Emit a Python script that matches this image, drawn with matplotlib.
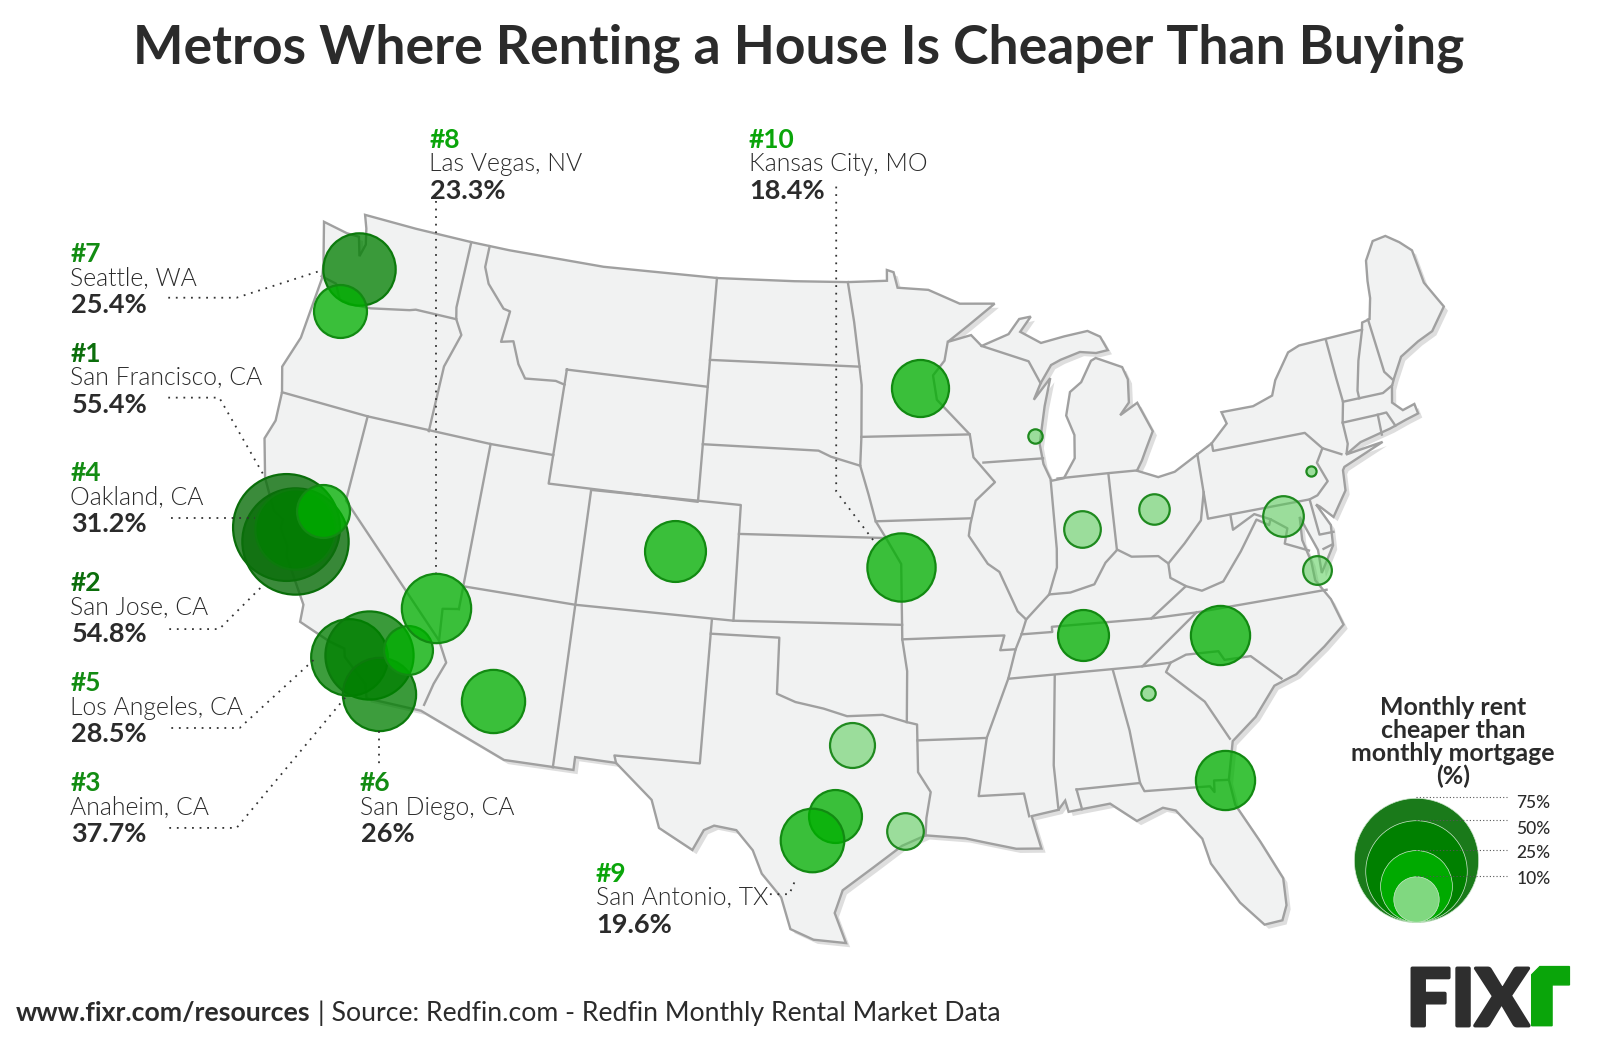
# rent vs buy bubble map
import numpy as np
import matplotlib
matplotlib.use('Agg')
import matplotlib.pyplot as plt
import matplotlib.patheffects as pe

plt.rcParams['font.family'] = ['Lato', 'DejaVu Sans']

## DATA
metro_names = ['Seattle', 'Portland', 'San Francisco', 'San Jose', 'Oakland', 'Sacramento',
               'Los Angeles', 'Anaheim', 'San Diego', 'Riverside', 'Las Vegas', 'Phoenix',
               'Denver', 'Kansas City', 'Minneapolis', 'Milwaukee', 'Indianapolis', 'Columbus',
               'Philadelphia', 'Washington', 'Virginia Beach', 'Nashville', 'Charlotte',
               'Atlanta', 'Jacksonville', 'Dallas', 'Austin', 'San Antonio', 'Houston']
# where the bubbles sit on the map, read back from the picture
metro_lon = [-122.29, -122.65, -122.3, -121.74, -121.88, -120.87,
             -118.23, -117.42, -116.63, -115.86, -115.02, -111.93,
             -104.89, -94.65, -93.57, -88.08, -86.3, -82.88,
             -75.47, -77.13, -76.14, -86.72, -80.83,
             -84.21, -81.56, -96.8, -97.43, -98.36, -94.64]
metro_lat = [46.86, 45.27, 37.57, 37.18, 37.59, 38.46,
             33.79, 34.02, 32.76, 34.48, 36.1, 33.27,
             39.25, 39.0, 45.16, 43.28, 39.94, 40.33,
             40.67, 39.35, 37.29, 36.29, 35.69,
             34.05, 30.71, 32.84, 30.4, 29.52, 29.87]
metro_values = [25.4, 13.6, 55.4, 54.8, 31.2, 13.6,
                28.5, 37.7, 26.0, 11.6, 23.3, 19.4,
                18.0, 22.6, 15.8, 1.0, 6.5, 4.5,
                0.5, 8.0, 4.0, 12.6, 17.0,
                1.0, 17.0, 9.8, 13.6, 19.6, 6.5]

label_ranks = ['#7', '#1', '#4', '#2', '#5', '#3', '#6', '#8', '#10', '#9']
label_cities = ['Seattle, WA', 'San Francisco, CA', 'Oakland, CA', 'San Jose, CA', 'Los Angeles, CA',
                'Anaheim, CA', 'San Diego, CA', 'Las Vegas, NV', 'Kansas City, MO', 'San Antonio, TX']
label_pcts = ['25.4%', '55.4%', '31.2%', '54.8%', '28.5%', '37.7%', '26%', '23.3%', '18.4%', '19.6%']

legend_values = [75, 50, 25, 10]
legend_labels = ['75%', '50%', '25%', '10%']

outline = [(-124.7,48.1),(-123.4,47.95),(-122.75,47.95),(-122.45,47.3),(-122.3,47.75),(-122.5,48.3),(-122.76,48.75),
 (-120,48.75),(-117,48.75),(-115,48.75),(-110,48.75),(-104,48.82),(-100,48.88),(-97.2,48.9),(-95.15,48.95),(-95.15,49.33),(-94.8,49.25),
 (-94.6,48.7),(-93.0,48.6),(-91.4,48.07),(-89.6,48.0),(-91.0,47.3),(-92.1,46.75),(-90.9,46.95),(-90.4,46.55),
 (-89,46.9),(-88.4,47.4),(-87.8,47.45),(-88.4,46.95),(-87.4,46.5),(-86.2,46.65),(-85,46.75),(-84.4,46.5),(-84.1,46.0),
 (-84.7,45.95),(-85.5,46.05),(-86.5,45.85),(-87.0,45.7),(-87.6,45.1),(-88.0,44.55),(-87.1,45.25),(-87.5,44.3),
 (-87.9,43.0),(-87.8,42.3),(-87.5,41.7),(-86.9,41.75),(-86.3,42.4),(-86.2,43.2),(-86.5,43.9),(-86.2,44.7),(-85.6,45.0),
 (-85.0,45.7),(-84.75,45.78),(-83.5,45.35),(-83.3,44.9),(-83.4,44.1),(-83.9,43.7),(-83.0,44.05),(-82.45,43.0),
 (-82.9,42.4),(-83.15,42.05),(-83.45,41.72),(-82.5,41.4),(-81.7,41.5),(-80.5,41.98),(-79.76,42.27),(-78.9,42.85),
 (-79.05,43.27),(-77.5,43.27),(-76.5,43.5),(-76.2,44.0),(-75.3,44.85),(-74.7,45.0),(-71.5,45.01),(-71.4,45.25),
 (-71.0,45.3),(-70.7,46.0),(-70.6,46.6),(-70.4,47.3),(-69.8,47.9),(-69.1,47.95),(-68.5,47.6),(-68.0,47.2),
 (-67.9,46.0),(-67.6,45.5),(-67.3,45.0),(-68.2,44.3),(-69.0,44.1),(-70.0,43.75),(-70.6,43.1),(-70.8,42.85),
 (-71.0,42.3),(-70.6,41.95),(-70.0,42.05),(-69.95,41.7),(-70.6,41.6),(-71.4,41.45),(-72.9,41.25),(-73.7,40.95),
 (-71.9,41.07),(-73.9,40.55),(-74.0,40.45),(-74.1,39.75),(-74.9,38.95),(-75.4,39.4),(-75.55,39.5),(-75.1,38.7),
 (-75.2,38.0),(-75.95,37.15),(-75.9,37.95),(-76.2,38.7),(-76.4,39.2),(-76.5,38.4),(-76.3,37.6),(-76.3,36.95),
 (-75.8,36.2),(-75.5,35.25),(-76.5,34.65),(-77.9,33.9),(-78.9,33.65),(-79.9,32.7),(-81.0,32.0),(-81.4,30.7),
 (-81.3,29.8),(-80.55,28.4),(-79.9,27.0),(-79.95,26.05),(-80.2,25.55),(-80.9,25.5),(-81.7,26.4),(-82.6,27.9),
 (-82.8,28.8),(-83.7,29.9),(-84.2,30.05),(-85.3,29.7),(-86.3,30.4),(-87.5,30.3),(-88.0,30.25),(-88.1,30.65),
 (-88.4,30.35),(-89.5,30.2),(-89.4,29.8),(-89.2,29.05),(-90.2,29.1),(-91.3,29.35),(-92.2,29.55),(-93.8,29.7),
 (-94.75,29.35),(-95.9,28.6),(-97.1,27.8),(-97.4,27.0),(-96.95,25.95),(-98.2,26.05),(-99.1,26.4),(-99.5,27.5),
 (-100.3,28.3),(-100.7,29.1),(-101.4,29.77),(-102.3,29.88),(-102.7,29.7),(-103.1,28.98),(-104.5,29.65),(-104.9,30.6),
 (-106.5,31.75),(-108.2,31.78),(-108.2,31.33),(-111.07,31.33),(-114.8,32.5),(-117.12,32.53),(-117.3,33.0),
 (-118.4,33.75),(-118.5,34.03),(-119.2,34.15),(-120.6,34.55),(-120.65,35.15),(-121.9,36.6),(-122.0,36.95),
 (-122.5,37.5),(-122.5,37.8),(-123.0,38.0),(-123.8,39.0),(-124.35,40.3),(-124.1,41.0),(-124.2,42.0),(-124.55,42.85),
 (-124.1,44.0),(-123.95,46.2),(-124.1,46.7)]

# state borders
borders = [
 [(-124.0,46.25),(-123.2,46.15),(-122.8,45.65),(-122.2,45.6),(-121.2,45.65),(-119.3,45.93),(-119,46),(-116.92,46.0)],
 [(-117.03,48.75),(-117.04,46.4),(-116.92,46.0),(-116.5,45.5),(-117.0,44.3),(-117.03,42)],
 [(-124.2,42),(-120,42),(-114.05,42),(-111.05,42)],
 [(-120,42),(-120,39),(-114.63,35.0),(-114.15,34.3),(-114.5,33.5),(-114.72,32.72)],
 [(-114.63,35),(-114.75,36.1),(-114.05,36.2)],
 [(-114.05,42),(-114.05,36.2)],
 [(-114.05,37),(-109.05,37),(-102.04,37),(-94.62,37)],
 [(-116.05,48.75),(-116.05,48),(-115.7,47.45),(-114.7,46.7),(-114.35,46.65),(-114.5,45.55),(-113.9,45.65),(-113.45,44.9),(-113,44.45),(-111.5,44.55),(-111.05,44.47)],
 [(-111.05,45),(-104.05,45),(-104.05,41),(-111.05,41),(-111.05,45)],
 [(-109.05,41),(-109.05,31.33)],
 [(-109.05,41),(-102.05,41),(-102.05,37)],
 [(-104.05,43),(-98.5,43),(-97.9,42.8),(-96.5,42.5)],
 [(-104.05,48.82),(-104.05,45)],
 [(-104.05,45.94),(-96.56,45.94)],
 [(-97.2,48.9),(-96.85,47.5),(-96.56,45.94),(-96.45,45.3),(-96.45,43.5),(-96.5,42.5),(-96.1,41.5),(-95.77,40.58),(-95.3,40),(-94.62,39.1),(-94.62,36.5),(-94.43,35.4),(-94.48,33.64)],
 [(-96.45,43.5),(-91.22,43.5)],
 [(-92.1,46.75),(-92.3,46.1),(-92.9,45.6),(-92.75,44.75),(-91.22,43.5),(-91.1,42.7),(-90.15,41.8),(-91.1,41.2),(-91.4,40.4),(-91.5,40),(-90.7,39),(-90.2,38.7),(-89.5,37.3),(-89.15,37),(-89.4,36.5),(-89.7,36),(-90.1,35),(-91.15,33),(-91.6,31),(-89.75,31),(-89.6,30.2)],
 [(-95.77,40.58),(-91.4,40.6)],
 [(-102.05,40),(-95.3,40)],
 [(-103,37),(-103.06,32),(-106.6,32),(-106.5,31.75)],
 [(-103,36.5),(-100,36.5),(-100,34.56),(-99.2,34.3),(-98,34.1),(-97,33.85),(-95.5,33.9),(-94.48,33.64),(-94.05,33.55),(-94.05,31.9),(-93.55,31.2),(-93.75,30.3),(-93.8,29.7)],
 [(-94.62,36.5),(-90.15,36.5),(-90.37,36),(-89.7,36)],
 [(-94.05,33),(-91.15,33)],
 [(-88.1,35.0),(-88.45,31.9),(-88.4,30.35)],
 [(-90.1,35),(-84.32,35),(-83.1,35.75),(-81.68,36.59)],
 [(-89.4,36.5),(-88.05,36.5),(-88.05,36.68),(-83.68,36.6),(-81.68,36.59),(-75.9,36.55)],
 [(-85.6,35),(-85.18,32.85),(-85,31),(-84.86,30.7),(-82.2,30.57),(-82.05,30.35),(-82,30.75),(-81.45,30.7)],
 [(-87.6,31),(-85,31)],
 [(-87.6,31),(-87.45,30.3)],
 [(-83.1,35),(-83.35,34.7),(-81.9,33.5),(-81.1,32.1)],
 [(-84.32,35),(-83.1,35),(-82.4,35.2),(-81,35.15),(-80.8,34.82),(-79.67,34.8),(-78.55,33.85)],
 [(-87.53,41.7),(-87.53,39.35),(-87.6,38.7),(-88.05,37.8)],
 [(-89.15,37),(-88.05,37.8),(-87.1,37.8),(-86,38),(-85.4,38.7),(-84.8,39.1),(-84.2,38.8),(-83.0,38.7),(-82.6,38.4),(-81.75,39.0),(-80.85,39.7),(-80.52,40.64)],
 [(-84.82,39.1),(-84.8,41.7)],
 [(-87.2,41.76),(-84.8,41.76),(-83.45,41.73)],
 [(-90.64,42.5),(-87.8,42.5)],
 [(-90.4,46.55),(-88.1,45.9),(-87.6,45.1)],
 [(-82.6,38.4),(-82.6,37.9),(-81.97,37.54),(-83.68,36.6)],
 [(-81.97,37.54),(-81.3,37.3),(-80.3,37.5),(-79.3,38.42),(-78.35,39.4),(-77.83,39.13),(-77.72,39.32)],
 [(-80.52,41.98),(-80.52,39.72),(-75.79,39.72)],
 [(-79.48,39.72),(-79.48,39.2),(-78.4,39.6),(-77.72,39.32),(-77.05,38.9),(-77.3,38.4),(-76.3,38.0)],
 [(-79.76,42.27),(-79.76,42),(-75.35,42),(-74.7,41.35),(-73.9,41.0)],
 [(-74.7,41.35),(-75.1,40.9),(-74.8,40.2),(-75.4,39.8),(-75.79,39.72),(-75.69,38.46),(-75.05,38.45)],
 [(-75.65,37.95),(-75.25,38.03)],
 [(-73.35,45),(-73.3,43.6),(-73.25,42.75),(-73.5,42.05),(-73.5,41.3),(-73.65,41.0)],
 [(-71.5,45),(-72.05,44.0),(-72.45,43),(-72.46,42.73)],
 [(-73.25,42.75),(-71.3,42.7),(-70.8,42.87)],
 [(-71.08,45.3),(-70.98,43.4),(-70.7,43.08)],
 [(-73.5,42.05),(-71.8,42.02),(-71.38,42.02),(-71.13,41.5)],
 [(-71.8,42.02),(-71.85,41.32)],
]


# albers equal area, same parallels as the usual US map
def project(lon, lat):
    lon = np.radians(np.asarray(lon, dtype=float) + 96)
    lat = np.radians(np.asarray(lat, dtype=float))
    p1, p2 = np.radians(29.5), np.radians(45.5)
    n = (np.sin(p1) + np.sin(p2)) / 2
    c = np.cos(p1) ** 2 + 2 * n * np.sin(p1)
    rho = np.sqrt(c - 2 * n * np.sin(lat)) / n
    return rho * np.sin(n * lon), -rho * np.cos(n * lon)


def bubble_size(v):
    # radius goes with sqrt of the value, 7.04 units per sqrt(%) on the page axes
    r_pt = 7.04 * np.sqrt(np.asarray(v, dtype=float)) * 1600 / 1569 * 0.72
    return (2 * r_pt) ** 2


def bubble_style(v):
    if v < 10:
        return '#55cc55', '#1f8a1f', 0.55
    if v < 25:
        return '#00b000', '#128a12', 0.76
    if v < 50:
        return '#007f00', '#0c7a0c', 0.76
    return '#0a6e0a', '#0a6e0a', 0.8


fig = plt.figure(figsize=(16, 10.41), dpi=100)
fig.patch.set_facecolor('white')

ax = fig.add_axes([0, 0, 1, 1])
ax.set_xlim(-0.5293, 0.4433)
ax.set_ylim(-1.5649, -0.9321)
ax.axis('off')

ox, oy = project(*zip(*outline))
land = ax.fill(ox, oy, facecolor='#f1f2f2', edgecolor='#a0a0a0', linewidth=1.7, zorder=2)[0]
land.set_path_effects([pe.SimplePatchShadow(offset=(3, -3), shadow_rgbFace='#c8c8c8', alpha=0.6), pe.Normal()])
for line in borders:
    bx, by = project(*zip(*line))
    ax.plot(bx, by, color='#a0a0a0', linewidth=1.7, zorder=3, solid_joinstyle='round')

mx, my = project(metro_lon, metro_lat)
for x, y, v in zip(mx, my, metro_values):
    face, edge, alpha = bubble_style(v)
    ax.scatter(x, y, s=bubble_size(v), facecolor=matplotlib.colors.to_rgba(face, alpha),
               edgecolor=edge, linewidth=1.6, zorder=5)

# everything else is laid out on the page
page = fig.add_axes([0, 0, 1, 1], facecolor='none')
page.set_xlim(0, 1569)
page.set_ylim(1021, 0)
page.axis('off')

ink = '#2b2b2b'
page.text(783, 47, 'Metros Where Renting a House Is Cheaper Than Buying', ha='center', va='center',
          fontsize=38.5, fontweight='bold', color=ink)

label_x = [69, 69, 69, 69, 69, 69, 353, 421, 734, 584]
label_y = [249, 347, 464, 572, 670, 768, 768, 137, 137, 857]
rank_colors = ['#128c12', '#0b6e0b', '#128c12', '#0b6e0b', '#128c12', '#128c12', '#128c12',
               '#0aa50a', '#0aa50a', '#0aa50a']
for i in range(len(label_ranks)):
    page.text(label_x[i], label_y[i], label_ranks[i], va='center', fontsize=19, fontweight='bold', color=rank_colors[i])
    page.text(label_x[i], label_y[i] + 24, label_cities[i], va='center', fontsize=17.8, fontweight=300, color=ink)
    page.text(label_x[i] + 1, label_y[i] + 50, label_pcts[i], va='center', fontsize=19.5, fontweight='bold', color=ink)

leaders = [
    ([165, 232, 316], [292, 292, 265]),
    ([165, 215, 258], [390, 390, 465]),
    ([168, 250], [508, 508]),
    ([166, 215, 257], [617, 617, 575]),
    ([168, 235, 310], [714, 714, 645]),
    ([166, 232, 342], [812, 812, 680]),
    ([372, 372], [717, 750]),
    ([428, 428], [197, 562]),
    ([820, 820, 858], [183, 482, 532]),
    ([755, 774, 780], [877, 877, 863]),
]
for lx, ly in leaders:
    page.plot(lx, ly, color='#333333', linewidth=1.3, linestyle=(0, (1, 3.2)), zorder=6)

# size legend
legend_colors = ['#1a7a1a', '#008000', '#00aa00', '#80d880']
legend_x, legend_bottom = 1389, 904
legend_y = [788, 813, 837, 862]
page.text(1425, 728, 'Monthly rent\ncheaper than\nmonthly mortgage\n(%)', ha='center', va='center',
          fontsize=17.9, fontweight='bold', color=ink, linespacing=1.0)
for v, c, lab, ly in zip(legend_values, legend_colors, legend_labels, legend_y):
    r = 7.04 * np.sqrt(v)
    page.scatter(legend_x, legend_bottom - r, s=bubble_size(v), facecolor=c, edgecolor='#cfe8cf', linewidth=0.5, zorder=4)
    page.plot([legend_x, 1478], [legend_bottom - 2 * r] * 2, color='#555555', linewidth=0.8,
              linestyle=(0, (1, 2)), zorder=5)
    page.text(1487, ly, lab, va='center', fontsize=12.5, fontweight='medium', color=ink)

# footer
page.text(15, 994, 'www.fixr.com/resources', va='center', fontsize=19.2, fontweight='bold', color=ink)
page.text(312, 994, '| Source: Redfin.com - Redfin Monthly Rental Market Data', va='center', fontsize=19.2, color=ink)

# logo
page.text(1379, 1006, 'FIX', va='baseline', ha='left', fontsize=57, fontweight='black', color='#2e2e2e',
          path_effects=[pe.withStroke(linewidth=2.5, foreground='#2e2e2e')])
page.fill([1502, 1510, 1539, 1539, 1522, 1522, 1502], [956, 948, 948, 966, 966, 1006, 1006], color='#0aa50a', zorder=4)

fig.savefig('out.png', dpi=100)
